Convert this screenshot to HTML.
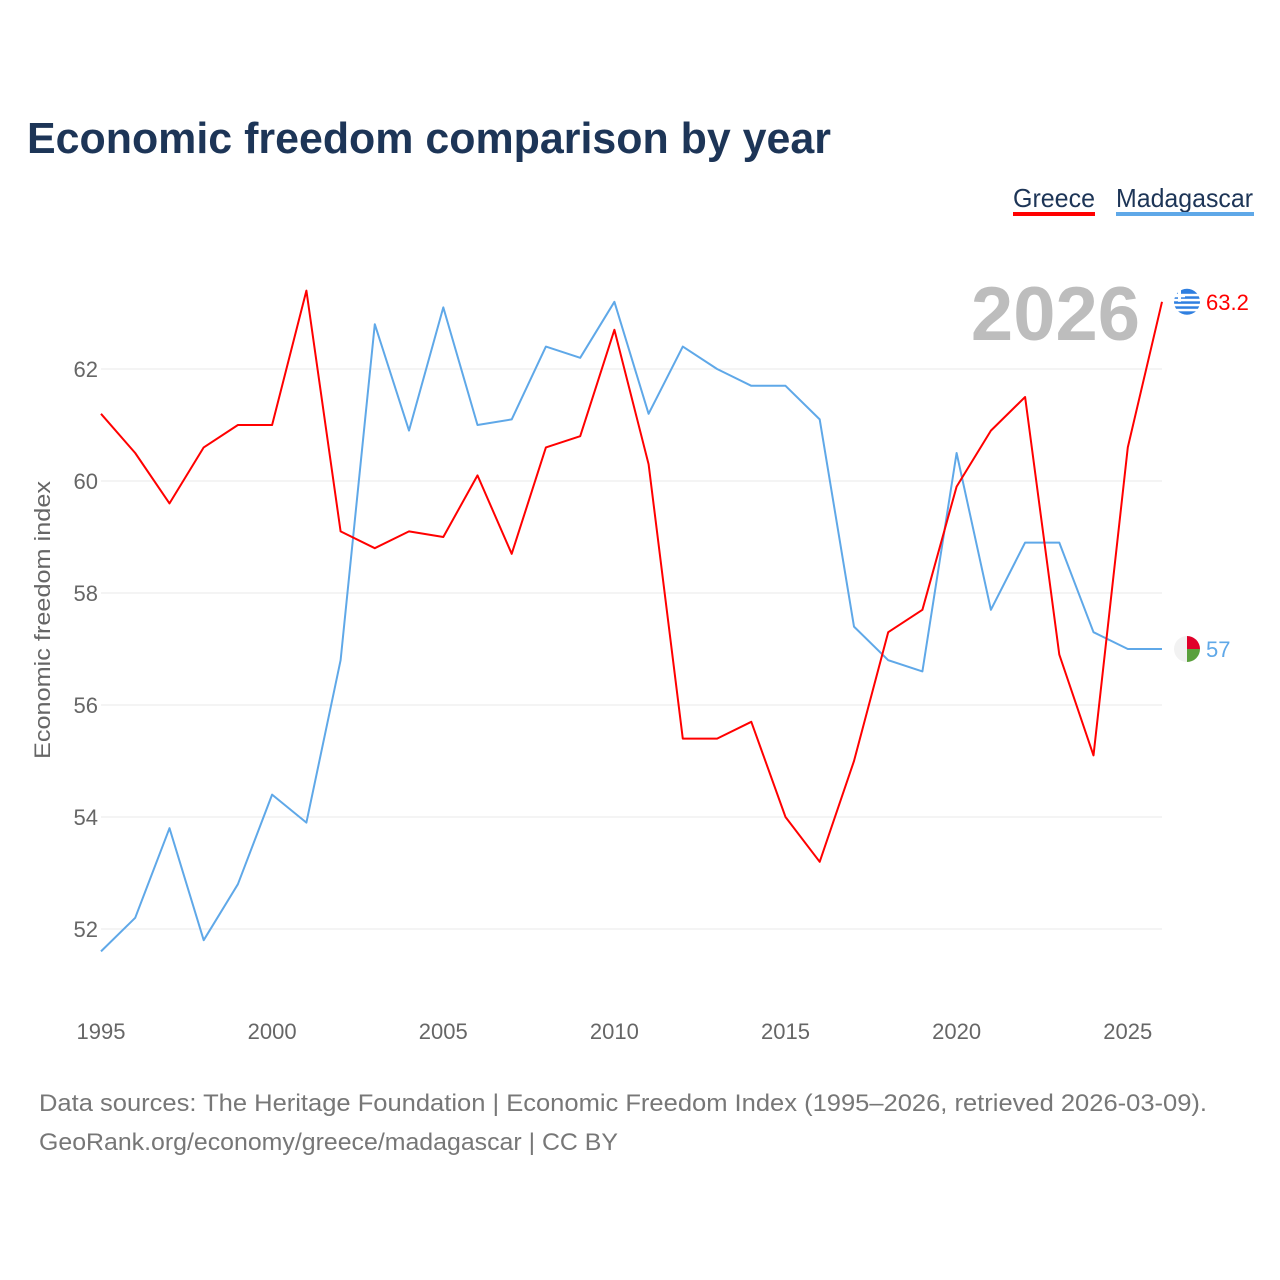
<!DOCTYPE html>
<html><head><meta charset="utf-8">
<style>
body{margin:0;background:#fff;font-family:"Liberation Sans",sans-serif;}
#wrap{position:relative;width:1280px;height:1280px;overflow:hidden;}
</style></head>
<body>
<div id="wrap">
<svg id="chart" width="1280" height="1280" xmlns="http://www.w3.org/2000/svg">
<text x="27" y="153" font-size="44" font-weight="bold" fill="#1d3557" textLength="804" lengthAdjust="spacingAndGlyphs">Economic freedom comparison by year</text>
<g>
<text x="1013" y="207" font-size="26" fill="#1d3557" textLength="82" lengthAdjust="spacingAndGlyphs">Greece</text>
<rect x="1013" y="212" width="82" height="4" fill="#ff0000"/>
<text x="1116" y="207" font-size="26" fill="#1d3557" textLength="137" lengthAdjust="spacingAndGlyphs">Madagascar</text>
<rect x="1116" y="212" width="138" height="4" fill="#5fa8e8"/>
</g>
<text x="1140" y="340" font-size="76" font-weight="bold" fill="#bdbdbd" text-anchor="end">2026</text>
<g id="grid"></g>
<g id="yticks"></g>
<g id="xticks"></g>
<text transform="translate(50,620) rotate(-90)" font-size="22" fill="#666" text-anchor="middle" textLength="278" lengthAdjust="spacingAndGlyphs">Economic freedom index</text>
<g id="lines"></g>
<g id="ends"></g>
<text x="39" y="1111" font-size="24" fill="#777" textLength="1168" lengthAdjust="spacingAndGlyphs">Data sources: The Heritage Foundation | Economic Freedom Index (1995–2026, retrieved 2026-03-09).</text>
<text x="39" y="1150" font-size="24" fill="#777" textLength="579" lengthAdjust="spacingAndGlyphs">GeoRank.org/economy/greece/madagascar | CC BY</text>
</svg>
</div>
<script>
const years=[1995,1996,1997,1998,1999,2000,2001,2002,2003,2004,2005,2006,2007,2008,2009,2010,2011,2012,2013,2014,2015,2016,2017,2018,2019,2020,2021,2022,2023,2024,2025,2026];
const greece=[61.2,60.5,59.6,60.6,61.0,61.0,63.4,59.1,58.8,59.1,59.0,60.1,58.7,60.6,60.8,62.7,60.3,55.4,55.4,55.7,54.0,53.2,55.0,57.3,57.7,59.9,60.9,61.5,56.9,55.1,60.6,63.2];
const madagascar=[51.6,52.2,53.8,51.8,52.8,54.4,53.9,56.8,62.8,60.9,63.1,61.0,61.1,62.4,62.2,63.2,61.2,62.4,62.0,61.7,61.7,61.1,57.4,56.8,56.6,60.5,57.7,58.9,58.9,57.3,57.0,57.0];
const yTicks=[52,54,56,58,60,62];
const xTicks=[1995,2000,2005,2010,2015,2020,2025];
const NS="http://www.w3.org/2000/svg";
const X=v=>101+(v-1995)*(1162-101)/31;
const Y=v=>369+(62-v)*56;
function mk(tag,attrs,parent,txt){const e=document.createElementNS(NS,tag);for(const k in attrs)e.setAttribute(k,attrs[k]);if(txt!==undefined)e.textContent=txt;document.getElementById(parent).appendChild(e);return e;}
yTicks.forEach(t=>{
 const l=mk('line',{x1:101,x2:1162,y1:Y(t),y2:Y(t),stroke:'#e8e8e8','stroke-width':1},'grid');
 
 
 const tx=mk('text',{x:98,y:Y(t)+8,'font-size':22,fill:'#666','text-anchor':'end'},'yticks',t);
 
 
});
xTicks.forEach(t=>{
 const tx=mk('text',{x:X(t),y:1039,'font-size':22,fill:'#666','text-anchor':'middle'},'xticks',t);
 
 
});
function line(data,color,name){
 const d=data.map((v,i)=>(i?'L':'M')+X(years[i]).toFixed(1)+','+Y(v).toFixed(1)).join('');
 const p=mk('path',{d:d,fill:'none',stroke:color,'stroke-width':2,'stroke-linejoin':'round'},'lines');
 
 
}
line(madagascar,'#5fa8e8','madagascar-line');
line(greece,'#ff0000','greece-line');
const gl=greece[greece.length-1], ml=madagascar[madagascar.length-1];
const gy=Y(gl), my=Y(ml), fx=1187;
const g1=mk('circle',{cx:fx,cy:gy,r:13,fill:'#2f7fe0'},'ends');


[-8,-3,2,7].forEach(o=>mk('rect',{x:fx-13,y:gy+o,width:26,height:2.5,fill:'#fff'},'ends'));
mk('rect',{x:fx-9,y:gy-12,width:3,height:12,fill:'#fff'},'ends');
mk('rect',{x:fx-13,y:gy-7.5,width:11,height:3,fill:'#fff'},'ends');
const gt=mk('text',{x:1206,y:gy+8,'font-size':22,fill:'#ff0000'},'ends',gl.toFixed(1));


const m1=mk('path',{d:`M${fx},${my-13}A13,13 0 0 1 ${fx+13},${my}L${fx},${my}Z`,fill:'#e0002a'},'ends');


mk('path',{d:`M${fx},${my}L${fx+13},${my}A13,13 0 0 1 ${fx},${my+13}Z`,fill:'#5aa03c'},'ends');
mk('path',{d:`M${fx},${my-13}A13,13 0 0 0 ${fx},${my+13}Z`,fill:'#f2f2f2'},'ends');
const mt=mk('text',{x:1206,y:my+8,'font-size':22,fill:'#5fa8e8'},'ends',String(ml));


</script>
</body></html>
